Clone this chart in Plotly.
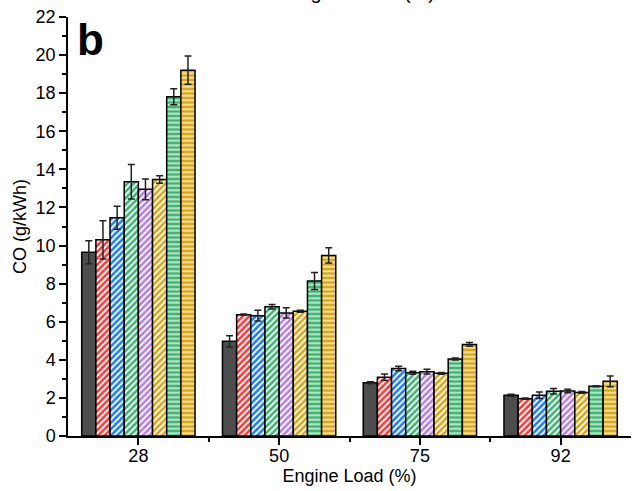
import plotly.graph_objects as go

categories = ["28", "50", "75", "92"]
xpos = [0, 1, 2, 3]

s1 = [9.65, 4.97, 2.80, 2.14]
s1_err = [0.60, 0.30, 0.05, 0.05]
s2 = [10.30, 6.37, 3.08, 1.96]
s2_err = [1.00, 0.03, 0.17, 0.03]
s3 = [11.46, 6.32, 3.54, 2.14]
s3_err = [0.60, 0.28, 0.12, 0.17]
s4 = [13.35, 6.79, 3.32, 2.35]
s4_err = [0.90, 0.12, 0.08, 0.14]
s5 = [12.95, 6.46, 3.38, 2.36]
s5_err = [0.55, 0.27, 0.12, 0.09]
s6 = [13.47, 6.55, 3.29, 2.29]
s6_err = [0.20, 0.05, 0.05, 0.05]
s7 = [17.81, 8.14, 4.04, 2.61]
s7_err = [0.42, 0.45, 0.05, 0.03]
s8 = [19.21, 9.48, 4.81, 2.87]
s8_err = [0.74, 0.40, 0.10, 0.28]

series = [
    ("S1", s1, s1_err, "#4d4d4d", "", None),
    ("S2", s2, s2_err, "#f23c3c", "/", "white"),
    ("S3", s3, s3_err, "#1f7de6", "/", "white"),
    ("S4", s4, s4_err, "#3cb371", "/", "white"),
    ("S5", s5, s5_err, "#b57fe0", "/", "white"),
    ("S6", s6, s6_err, "#d9a514", "/", "white"),
    ("S7", s7, s7_err, "#3cb371", "-", "#bfe8cc"),
    ("S8", s8, s8_err, "#d9a514", "-", "#f5e2a8"),
]

FONT = "Liberation Sans, Arial, sans-serif"

fig = go.Figure()
for name, vals, errs, color, shape, fg in series:
    marker = dict(color=color, line=dict(color="black", width=1.5))
    if shape:
        marker["pattern"] = dict(shape=shape, bgcolor=color, fgcolor=fg,
                                 fillmode="replace", size=4.5,
                                 solidity=0.4 if shape == "/" else 0.45)
    fig.add_trace(go.Bar(
        x=xpos, y=vals, name=name, marker=marker,
        error_y=dict(type="data", array=errs, color="#222222",
                     thickness=1.5, width=3.5),
        showlegend=False,
    ))

fig.update_layout(
    width=632, height=491,
    margin=dict(l=68, r=1, t=17, b=55),
    paper_bgcolor="white", plot_bgcolor="white",
    barmode="group", bargap=0.195, bargroupgap=0,
    font=dict(family=FONT, size=18, color="black"),
    xaxis=dict(
        range=[-0.5, 3.5], tickmode="array", tickvals=xpos, ticktext=categories,
        showline=True, linecolor="black", linewidth=1.5,
        ticks="outside", ticklen=7, tickwidth=1.5, tickcolor="black",
        ticklabelstandoff=-4,
        minor=dict(tickmode="array", tickvals=[0.5, 1.5, 2.5], ticks="outside",
                   ticklen=4, tickwidth=1.5, tickcolor="black"),
        showgrid=False, zeroline=False,
        title=dict(text="Engine Load (%)", font=dict(size=18), standoff=0),
        tickfont=dict(size=18),
    ),
    xaxis2=dict(
        overlaying="x", side="top", anchor="y", range=[-0.5, 3.5],
        tickmode="linear", tick0=0, dtick=0.5,
        showline=True, linecolor="black", linewidth=1.5,
        ticks="inside", ticklen=6, tickwidth=1.5, tickcolor="black",
        showticklabels=False, showgrid=False, zeroline=False,
    ),
    yaxis=dict(
        range=[0, 22], tickmode="linear", tick0=0, dtick=2,
        showline=True, linecolor="black", linewidth=1.5,
        ticks="outside", ticklen=7, tickwidth=1.5, tickcolor="black",
        minor=dict(tick0=0, dtick=1, ticks="outside", ticklen=4,
                   tickwidth=1.5, tickcolor="black"),
        showgrid=False, zeroline=False,
        title=dict(text="CO (g/kWh)", font=dict(size=18), standoff=4),
        tickfont=dict(size=18),
    ),
    yaxis2=dict(
        overlaying="y", side="right", anchor="x", range=[0, 22],
        tickmode="linear", tick0=0, dtick=1,
        showline=True, linecolor="black", linewidth=1.5,
        ticks="inside", ticklen=4, tickwidth=1.5, tickcolor="black",
        showticklabels=False, showgrid=False, zeroline=False,
    ),
    annotations=[
        dict(text="<b>b</b>", xref="paper", yref="paper", x=0.013, y=1.010,
             xanchor="left", yanchor="top", showarrow=False,
             font=dict(size=44, family=FONT, color="black")),
        dict(text="Engine Load (%)", xref="paper", yref="paper", x=0.5187, y=1.029,
             xanchor="center", yanchor="bottom", showarrow=False,
             font=dict(size=20, family=FONT, color="black")),
    ],
)

fig.write_html("out.html")
